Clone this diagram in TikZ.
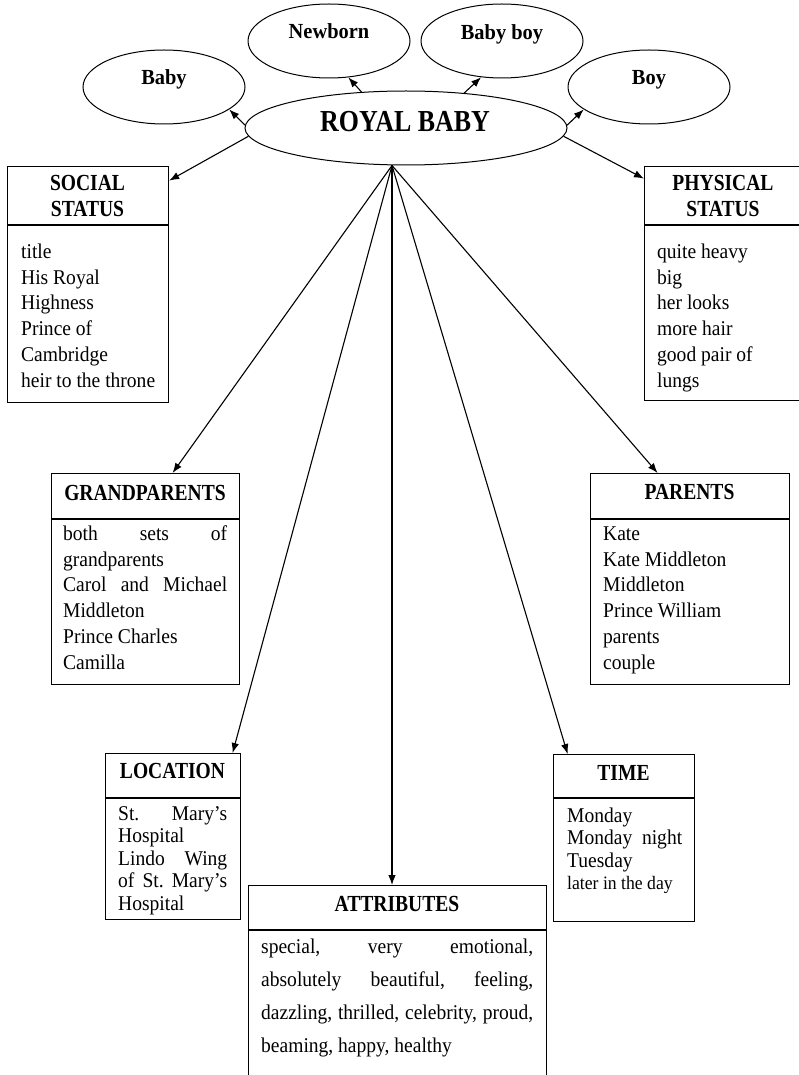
\documentclass[tikz,border=0pt]{standalone}
\usepackage{fontspec}
\newfontfamily\bodyf{Liberation Serif}[FakeStretch=0.93]
\newfontfamily\headf{Liberation Serif}[FakeStretch=0.85]
\newfontfamily\ellf{Liberation Serif}[FakeStretch=0.95]
\usetikzlibrary{shapes.geometric,arrows.meta}
\newcommand{\spreadto}[2]{\makebox[#1][s]{#2}}
\frenchspacing
\begin{document}
\begin{tikzpicture}[x=1pt,y=1pt,
  boxpart/.style={draw, line width=1.2pt, rectangle, inner sep=0pt, anchor=north west},
  hdtext/.style={font=\headf\bfseries\fontsize{23}{26}\selectfont, align=center, inner sep=0pt},
  bodytext/.style={font=\bodyf\fontsize{21}{#1}\selectfont, align=left, anchor=north west, inner sep=0pt},
  bodytext/.default=25.8,
  elli/.style={draw, ellipse, line width=1pt, inner sep=0pt, minimum height=74pt},
  eltext/.style={font=\ellf\bfseries\fontsize{21.5}{24}\selectfont, inner sep=0pt, anchor=base},
  royaltext/.style={font=\headf\bfseries\fontsize{30.5}{33}\selectfont, inner sep=0pt, anchor=base},
  arr/.style={-{Latex[length=10pt,width=7.5pt]}, line width=1.1pt}
]
\useasboundingbox (0,0) rectangle (798,-1075);

% ellipses
\node[elli, minimum width=322pt] (royal) at (406,-128) {};
\node[elli, minimum width=162pt] (baby) at (164,-87) {};
\node[elli, minimum width=162pt] (newborn) at (329,-41) {};
\node[elli, minimum width=162pt] (babyboy) at (502,-41) {};
\node[elli, minimum width=162pt] (boy) at (649,-87) {};
\node[royaltext] (royalt) at (405,-132) {ROYAL BABY};
\node[eltext] (babyt) at (164,-85) {Baby};
\node[eltext] (newbornt) at (329,-39) {Newborn};
\node[eltext] (babyboyt) at (502,-40) {Baby boy};
\node[eltext] (boyt) at (649,-85) {Boy};

% SOCIAL STATUS
\node[boxpart, minimum width=161pt, minimum height=58pt] (sochead) at (7,-166) {};
\node[boxpart, minimum width=161pt, minimum height=177pt] (socbody) at (sochead.south west) {};
\node[hdtext] (socht) at (87.5,-196) {SOCIAL\\STATUS};
\node[bodytext] (socbt) at (21,-239.94) {\strut title\\His Royal\\Highness\\Prince of\\Cambridge\\heir to the throne};

% PHYSICAL STATUS
\node[boxpart, minimum width=158pt, minimum height=58pt] (phyhead) at (644,-166) {};
\node[boxpart, minimum width=158pt, minimum height=175pt] (phybody) at (phyhead.south west) {};
\node[hdtext] (phyht) at (723,-196) {PHYSICAL\\STATUS};
\node[bodytext] (phybt) at (657,-239.94) {\strut quite heavy\\big\\her looks\\more hair\\good pair of\\lungs};

% GRANDPARENTS
\node[boxpart, minimum width=188pt, minimum height=45pt] (gphead) at (51,-473) {};
\node[boxpart, minimum width=188pt, minimum height=165pt] (gpbody) at (gphead.south west) {};
\node[hdtext, anchor=base] (gpht) at (145,-500) {GRANDPARENTS};
\node[bodytext] (gpbt) at (63,-521.94) {\strut\spreadto{164pt}{both sets of}\\grandparents\\\spreadto{164pt}{Carol and Michael}\\Middleton\\Prince Charles\\Camilla};

% PARENTS
\node[boxpart, minimum width=199pt, minimum height=45pt] (parhead) at (590,-473) {};
\node[boxpart, minimum width=199pt, minimum height=165pt] (parbody) at (parhead.south west) {};
\node[hdtext, anchor=base] (parht) at (689.5,-499) {PARENTS};
\node[bodytext] (parbt) at (603,-521.94) {\strut Kate\\Kate Middleton\\Middleton\\Prince William\\parents\\couple};

% LOCATION
\node[boxpart, minimum width=135pt, minimum height=44pt] (lochead) at (105,-753) {};
\node[boxpart, minimum width=135pt, minimum height=121pt] (locbody) at (lochead.south west) {};
\node[hdtext, anchor=base] (locht) at (172.5,-778) {LOCATION};
\node[bodytext=22.5] (locbt) at (118,-804.25) {\strut\spreadto{109pt}{St. Mary’s}\\Hospital\\\spreadto{109pt}{Lindo Wing}\\\spreadto{109pt}{of St. Mary’s}\\Hospital};

% TIME
\node[boxpart, minimum width=141pt, minimum height=43pt] (timhead) at (553,-754) {};
\node[boxpart, minimum width=141pt, minimum height=123pt] (timbody) at (timhead.south west) {};
\node[hdtext, anchor=base] (timht) at (623.5,-780) {TIME};
\node[bodytext=22.5] (timbt) at (567,-806.25) {\strut Monday\\\spreadto{115pt}{Monday night}\\Tuesday\\{\fontsize{19}{22.5}\selectfont later in the day}};

% ATTRIBUTES
\node[boxpart, minimum width=298pt, minimum height=44pt] (atthead) at (248,-885) {};
\node[boxpart, minimum width=298pt, minimum height=145pt] (attbody) at (atthead.south west) {};
\node[hdtext, anchor=base] (attht) at (397,-911) {ATTRIBUTES};
\node[bodytext=33] (attbt) at (261,-929.9) {\strut\spreadto{272pt}{special, very emotional,}\\\spreadto{272pt}{absolutely beautiful, feeling,}\\\spreadto{272pt}{dazzling, thrilled, celebrity, proud,}\\beaming, happy, healthy};

% arrows to small ellipses
\draw[arr] (royal.179) -- (baby.-19);
\draw[arr] (royal.141) -- (newborn.-62);
\draw[arr] (royal.31) -- (babyboy.-120);
\draw[arr] (royal.1) -- (boy.199);
\draw[arr] (royal.183) -- ([yshift=15pt]sochead.east);
\draw[arr] (royal.-3) -- ([yshift=17pt]phyhead.west);

% fan
\coordinate (hub) at ([xshift=-14pt]royal.south);
\draw[arr] (hub) -- ([xshift=27pt]gphead.north);
\draw[arr] (hub) -- ([xshift=59.5pt]lochead.north);
\draw[arr] (hub) -- (hub |- atthead.north);
\draw[arr] (hub) -- ([xshift=-56.5pt]timhead.north);
\draw[arr] (hub) -- ([xshift=-32.5pt]parhead.north);
\end{tikzpicture}
\end{document}
